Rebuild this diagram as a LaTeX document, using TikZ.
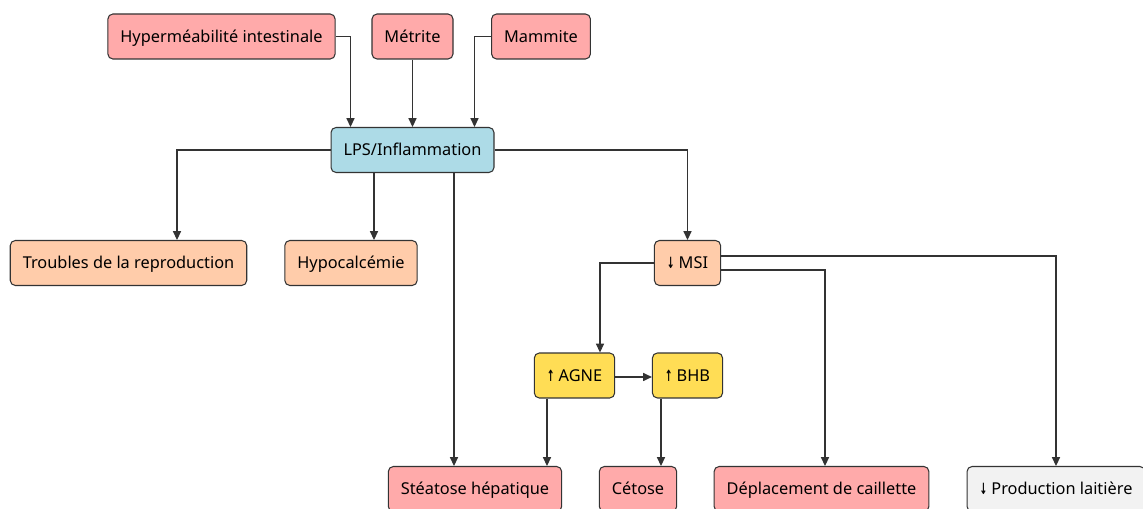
\documentclass[tikz,border=0pt]{standalone}
\usepackage{fontspec}
\setmainfont{Noto Sans}
\newfontfamily\arrowfont{DejaVu Sans}
\usetikzlibrary{arrows.meta,calc}

\definecolor{causefill}{HTML}{FFAAAA}
\definecolor{lpsfill}{HTML}{ADDBE7}
\definecolor{effectfill}{HTML}{FFCCAA}
\definecolor{metafill}{HTML}{FFDD55}
\definecolor{milkfill}{HTML}{F2F2F2}
\definecolor{linegray}{HTML}{333333}

\newcommand{\arrup}{\scalebox{0.6}[1]{\arrowfont\bfseries\fontsize{8.8}{10}\selectfont ↑}\hspace{2.3pt}}
\newcommand{\arrdown}{\scalebox{0.6}[1]{\arrowfont\bfseries\fontsize{8.8}{10}\selectfont ↓}\hspace{2.3pt}}

\tikzset{
  box/.style={draw=linegray, line width=0.6pt, rounded corners=0.1cm,
    minimum height=0.9cm, inner xsep=0.25cm,
    text height=8pt, text depth=1.4pt,
    font=\fontsize{9.3}{11}\selectfont},
  causebox/.style={box, fill=causefill},
  lpsbox/.style={box, fill=lpsfill},
  effectbox/.style={box, fill=effectfill},
  metabox/.style={box, fill=metafill},
  milkbox/.style={box, fill=milkfill},
  arr/.style={draw=linegray, line width=0.6pt,
    -{Triangle[length=5pt,width=4.6pt]}}
}

\begin{document}
\begin{tikzpicture}[x=0.02cm, y=-0.02cm]
    \useasboundingbox (0,0) rectangle (1143,509);

    \node[causebox] (hyper) at (221.5,36.5) {Hyperméabilité intestinale};
    \node[causebox] (metrite) at (412.5,36.5) {Métrite};
    \node[causebox] (mammite) at (541,36.5) {Mammite};

    \node[lpsbox] (lps) at (412.5,150) {LPS/Inflammation};

    \node[effectbox] (repro) at (128.5,263) {Troubles de la reproduction};
    \node[effectbox] (hypoca) at (351,263) {Hypocalcémie};
    \node[effectbox] (msi) at (687.5,263) {\arrdown MSI};

    \node[metabox] (agne) at (574.5,375.5) {\arrup AGNE};
    \node[metabox] (bhb) at (687.5,375.5) {\arrup BHB};

    \node[causebox] (steatose) at (475,489) {Stéatose hépatique};
    \node[causebox] (cetose) at (638,489) {Cétose};
    \node[causebox] (caillette) at (821.5,489) {Déplacement de caillette};
    \node[milkbox] (lait) at (1056,489) {\arrdown Production laitière};

    \draw[arr] (hyper.east) -| ($(lps.north west)+(20,0)$);
    \draw[arr] (metrite) -- (lps);
    \draw[arr] (mammite.west) -| ($(lps.north east)+(-20,0)$);

    \draw[arr] (lps.west) -| (repro.north -| 177,0);
    \draw[arr] (lps.south -| 374,0) -- (hypoca.north -| 374,0);
    \draw[arr] (lps.south -| 454,0) -- (steatose.north -| 454,0);
    \draw[arr] (lps.east) -| (msi.north);

    \draw[arr] (msi.west) -| (agne.north -| 600,0);
    \draw[arr] ($(msi.east)+(0,7)$) -| (caillette.north -| 825,0);
    \draw[arr] ($(msi.east)+(0,-7)$) -| (lait.north);

    \draw[arr] ($(agne.east)+(0,1.5)$) -- ($(bhb.west)+(0,1.5)$);
    \draw[arr] (agne.south -| 547,0) -- (steatose.north -| 547,0);
    \draw[arr] (bhb.south -| 661,0) -- (cetose.north -| 661,0);
\end{tikzpicture}
\end{document}
